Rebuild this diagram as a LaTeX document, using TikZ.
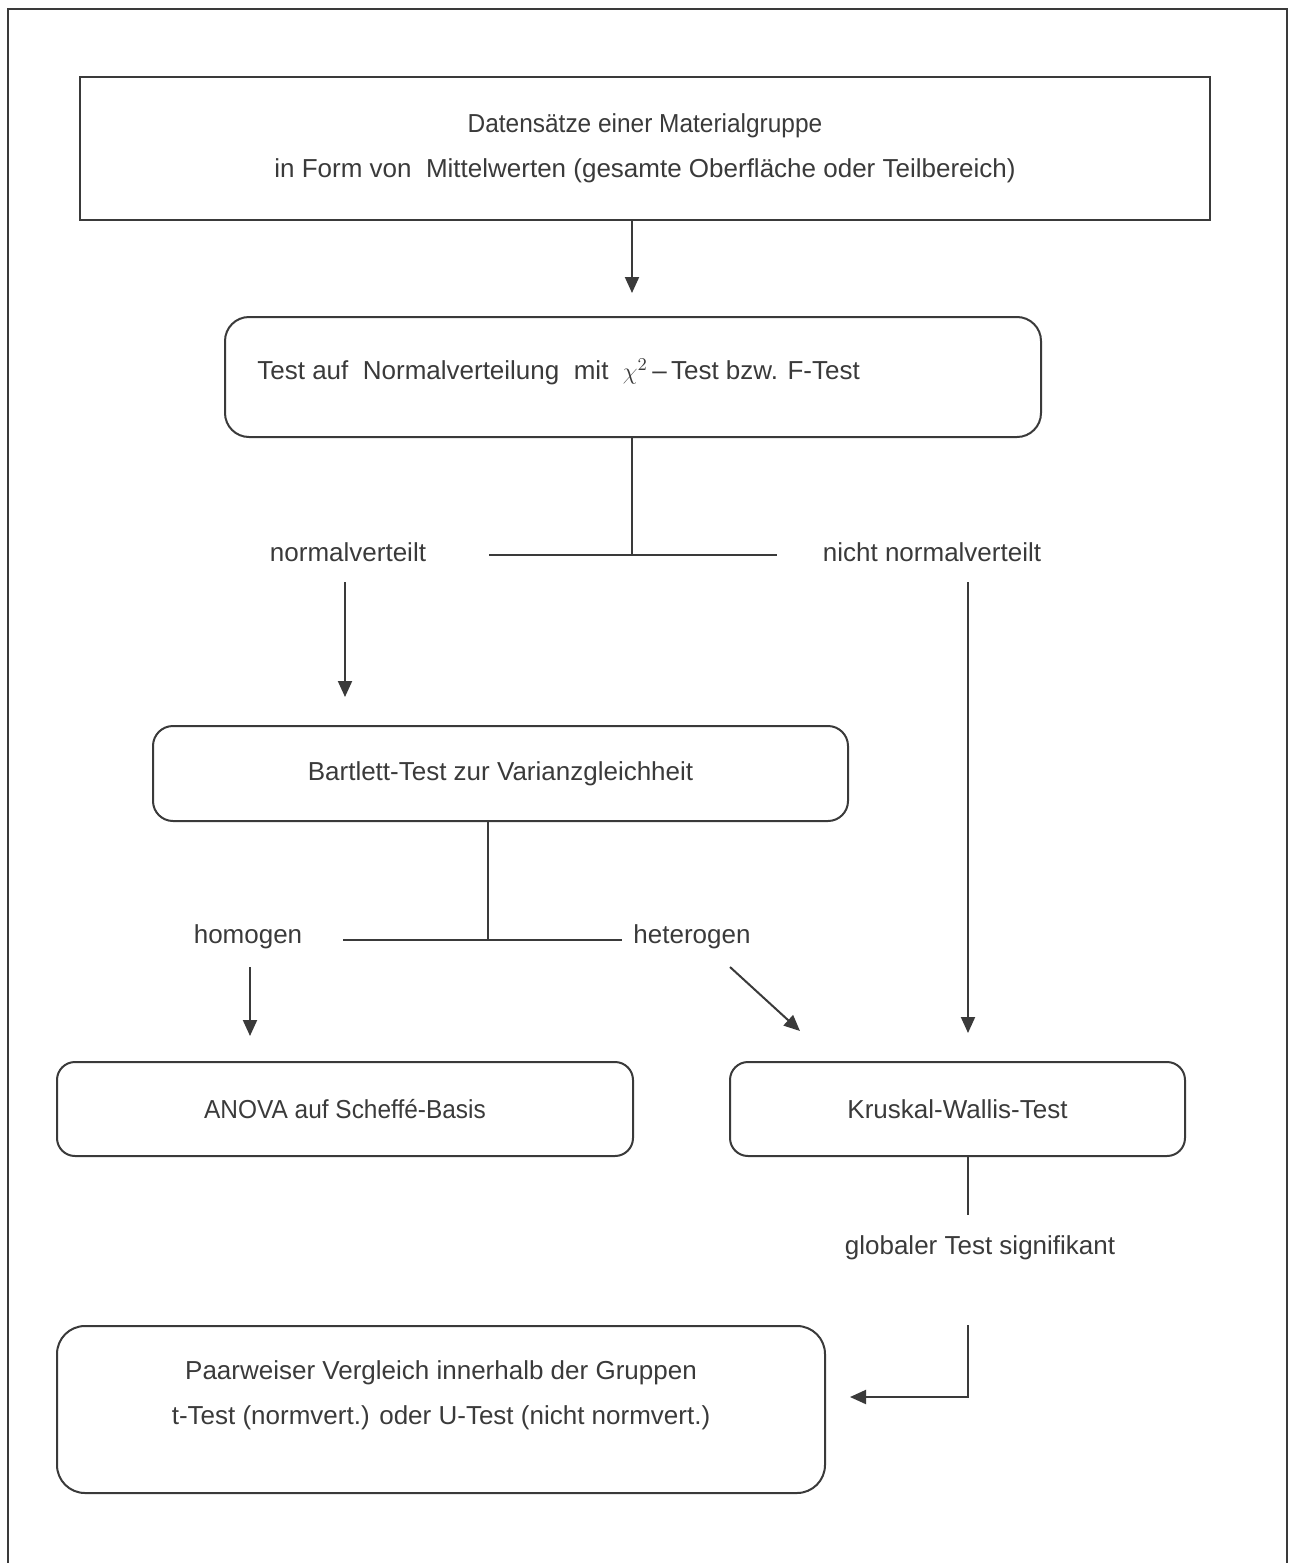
\documentclass[tikz,border=0pt]{standalone}
\usepackage{fontspec}
\setmainfont{Liberation Sans}
\usetikzlibrary{arrows.meta}
\definecolor{ink}{HTML}{3A3A3A}
\newcommand{\narrowtxt}[1]{\scalebox{0.94}[1]{#1}}
\begin{document}
\begin{tikzpicture}[x=0.5pt,y=-0.5pt,
  line/.style={draw=ink,line width=1pt},
  arr/.style={line,-{Triangle[length=8pt,width=7pt]}},
  boxbase/.style={draw=ink,line width=1pt,text=ink,align=center,inner sep=0pt,font=\fontsize{13}{22.5}\selectfont},
  lab/.style={text=ink,inner sep=0pt,font=\fontsize{13}{15}\selectfont}]
\useasboundingbox (0,0) rectangle (1294,1563);
% outer frame
\draw[line] (8,1563) -- (8,9) -- (1287,9) -- (1287,1563);
% boxes
\node[boxbase,minimum width=565pt,minimum height=71.5pt] (b1) at (645,148.5)
  {\narrowtxt{Datensätze einer Materialgruppe}\\in Form von\ \ Mittelwerten (gesamte Oberfläche oder Teilbereich)};
\node[boxbase,rounded corners=12pt,minimum width=408pt,minimum height=60pt] (b2) at (633,377) {};
\node[lab,anchor=west] (t2) at (257,372) {Test auf\ \ Normalverteilung\ \ mit\ \ $\chi^2$\,–\,Test bzw. F-Test};
\node[boxbase,rounded corners=10pt,minimum width=347.5pt,minimum height=47.5pt] (b3) at (500.5,773.5)
  {Bartlett-Test zur Varianzgleichheit};
\node[boxbase,rounded corners=9pt,minimum width=288pt,minimum height=47pt] (b4) at (345,1109)
  {\narrowtxt{ANOVA auf Scheffé-Basis}};
\node[boxbase,rounded corners=9pt,minimum width=227.5pt,minimum height=47pt] (b5) at (957.5,1109)
  {Kruskal-Wallis-Test};
\node[boxbase,rounded corners=14pt,minimum width=384pt,minimum height=83.5pt] (b6) at (441,1409.5) {};
\node[boxbase,draw=none] (t6) at (441,1395)
  {Paarweiser Vergleich innerhalb der Gruppen\\t-Test (normvert.) oder U-Test (nicht normvert.)};
% labels
\node[lab] (l1) at (348,552) {normalverteilt};
\node[lab] (l2) at (932,552) {nicht normalverteilt};
\node[lab] (l3) at (248,937) {homogen};
\node[lab] (l4) at (692,937) {heterogen};
\node[lab] (l5) at (980,1248) {globaler Test signifikant};
% coordinates
\coordinate (a1) at (632,293);
\coordinate (j1) at (632,555);
\coordinate (h1l) at (489,555);
\coordinate (h1r) at (777,555);
\coordinate (a2s) at (345,582);
\coordinate (a2e) at (345,697);
\coordinate (a3s) at (968,582);
\coordinate (a3e) at (968,1033);
\coordinate (j2) at (488,940);
\coordinate (h2l) at (343,940);
\coordinate (h2r) at (622,940);
\coordinate (a4s) at (250,967);
\coordinate (a4e) at (250,1036);
\coordinate (a5s) at (730,967);
\coordinate (a5e) at (800,1031);
\coordinate (k1) at (968,1215);
\coordinate (k2) at (968,1325);
\coordinate (k3) at (968,1397);
\coordinate (k4) at (850,1397);
% connectors
\draw[arr] (b1.south -| a1) -- (a1);
\draw[line] (b2.south -| j1) -- (j1);
\draw[line] (h1l) -- (h1r);
\draw[arr] (a2s) -- (a2e);
\draw[arr] (a3s) -- (a3e);
\draw[line] (b3.south -| j2) -- (j2);
\draw[line] (h2l) -- (h2r);
\draw[arr] (a4s) -- (a4e);
\draw[arr] (a5s) -- (a5e);
\draw[line] (b5.south -| k1) -- (k1);
\draw[arr] (k2) -- (k3) -- (k4);
\end{tikzpicture}
\end{document}
